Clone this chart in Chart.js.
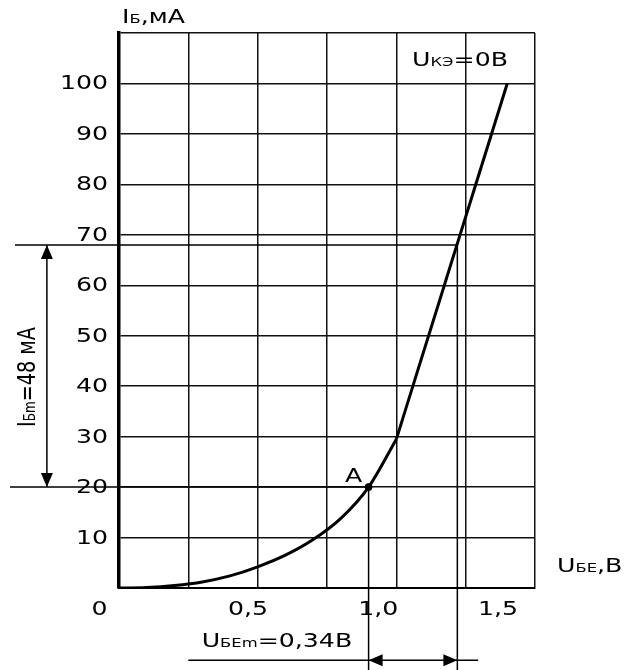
<!DOCTYPE html>
<html>
<head>
<meta charset="utf-8">
<script src="https://cdn.jsdelivr.net/npm/chart.js@4/dist/chart.umd.min.js"></script>
<style>
  html, body { margin: 0; padding: 0; background: #fff; }
  canvas { display: block; }
</style>
</head>
<body>
<canvas id="grafico" width="627" height="670"></canvas>
<script>
// входная характеристика I_Б(U_БЕ), U_КЭ = 0 В
const curveU = [0, 0.1, 0.2, 0.3, 0.4, 0.5, 0.6, 0.7, 0.8, 0.9, 1.0];
const curveI = [0, 0.1, 0.5, 1.2, 2.4, 4.2, 6.5, 9.6, 13.8, 20, 29.5];
const lineU = [1.0, 1.4];
const lineI = [29.5, 100];

// рабочие точки
const pointA = { x: 0.9, y: 20 };
const pointTop = { x: 1.22, y: 68 };

// подписи осей
const yTicks = [10, 20, 30, 40, 50, 60, 70, 80, 90, 100];
const xTickLabels = ['0', '0,5', '1,0', '1,5'];
const xTickAt = [-0.07, 0.465, 0.935, 1.367];

// выноски (в единицах осей)
const leftGuideX = [-0.375, -0.393];
const leftArrowX = -0.26;
const bottomArrowY = -14.3;
const bottomArrowX = [0.25, 1.295];
const bottomEndY = -17;

const FONT = 'DejaVu Sans';
const SX = 1.26;

function pts(xs, ys) {
  return xs.map((x, i) => ({ x: x, y: ys[i] }));
}

function guide(data) {
  return {
    data: data, showLine: true, borderColor: '#000', borderWidth: 1.5,
    pointRadius: 0, clip: false, tension: 0
  };
}

// текст с нижними индексами, растянутый по горизонтали
function richText(ctx, parts, x, y, align, sx) {
  ctx.save();
  let w = 0;
  parts.forEach(p => {
    ctx.font = p[1] + 'px "' + FONT + '"';
    w += ctx.measureText(p[0]).width;
  });
  w *= sx;
  let start = x;
  if (align === 'center') start = x - w / 2;
  if (align === 'right') start = x - w;
  ctx.translate(start, y);
  ctx.scale(sx, 1);
  ctx.fillStyle = '#000';
  ctx.textBaseline = 'alphabetic';
  ctx.textAlign = 'left';
  let cx = 0;
  parts.forEach(p => {
    ctx.font = p[1] + 'px "' + FONT + '"';
    ctx.fillText(p[0], cx, 0);
    cx += ctx.measureText(p[0]).width;
  });
  ctx.restore();
}

function arrowHead(ctx, x, y, dir) {
  const L = 14, W = 6;
  ctx.beginPath();
  if (dir === 'up') { ctx.moveTo(x, y); ctx.lineTo(x - W, y + L); ctx.lineTo(x + W, y + L); }
  if (dir === 'down') { ctx.moveTo(x, y); ctx.lineTo(x - W, y - L); ctx.lineTo(x + W, y - L); }
  if (dir === 'left') { ctx.moveTo(x, y); ctx.lineTo(x + L, y - W); ctx.lineTo(x + L, y + W); }
  if (dir === 'right') { ctx.moveTo(x, y); ctx.lineTo(x - L, y - W); ctx.lineTo(x - L, y + W); }
  ctx.closePath();
  ctx.fillStyle = '#000';
  ctx.fill();
}

const podpisi = {
  id: 'podpisi',
  afterDraw(chart) {
    const ctx = chart.ctx;
    const xs = chart.scales.x, ys = chart.scales.y;
    const X = v => xs.getPixelForValue(v);
    const Y = v => ys.getPixelForValue(v);

    // деления оси Y
    yTicks.forEach(t => {
      richText(ctx, [[String(t), 20]], X(0) - 11, Y(t) + 6, 'right', SX);
    });
    // деления оси X
    xTickLabels.forEach((t, i) => {
      richText(ctx, [[t, 20]], X(xTickAt[i]), Y(0) + 27, 'center', SX);
    });

    // названия осей
    richText(ctx, [['I', 20], ['Б', 13], [',мА', 20]], X(0) + 3, 23, 'left', SX);
    richText(ctx, [['U', 20], ['БЕ', 13], [',В', 20]], 557, Y(0) - 16, 'left', SX);
    richText(ctx, [['U', 20], ['КЭ', 13], ['=0В', 20]], 412, Y(103.5), 'left', SX);
    richText(ctx, [['A', 20]], X(pointA.x) - 15, Y(pointA.y) - 5, 'center', SX);
    richText(ctx, [['U', 20], ['БЕm', 13], ['=0,34В', 20]], X(0.5) - 56, Y(bottomArrowY) - 13, 'left', SX);

    // вертикальная подпись слева
    ctx.save();
    ctx.translate(35, Y((pointA.y + pointTop.y) / 2) + 11);
    ctx.rotate(-Math.PI / 2);
    richText(ctx, [['I', 24], ['Бm', 15], ['=48 мА', 24]], 0, 0, 'center', 0.8);
    ctx.restore();

    // стрелки
    arrowHead(ctx, X(leftArrowX), Y(pointTop.y), 'up');
    arrowHead(ctx, X(leftArrowX), Y(pointA.y), 'down');
    arrowHead(ctx, X(pointA.x), Y(bottomArrowY), 'left');
    arrowHead(ctx, X(pointTop.x), Y(bottomArrowY), 'right');
  }
};

new Chart(document.getElementById('grafico').getContext('2d'), {
  type: 'scatter',
  data: {
    datasets: [
      {
        data: pts(curveU, curveI), showLine: true, borderColor: '#000', borderWidth: 3,
        pointRadius: 0, cubicInterpolationMode: 'monotone', tension: 0.4
      },
      {
        data: pts(lineU, lineI), showLine: true, borderColor: '#000', borderWidth: 3,
        pointRadius: 0, tension: 0
      },
      guide([{ x: leftGuideX[0], y: pointTop.y }, pointTop, { x: pointTop.x, y: bottomEndY }]),
      guide([{ x: leftGuideX[1], y: pointA.y }, pointA, { x: pointA.x, y: bottomEndY }]),
      guide([{ x: leftArrowX, y: pointA.y }, { x: leftArrowX, y: pointTop.y }]),
      guide([{ x: bottomArrowX[0], y: bottomArrowY }, { x: bottomArrowX[1], y: bottomArrowY }]),
      {
        data: [pointA], pointRadius: 3.5, pointBackgroundColor: '#000',
        pointBorderColor: '#000', showLine: false
      }
    ]
  },
  options: {
    responsive: false,
    animation: false,
    layout: { padding: { left: 119, right: 92, top: 33, bottom: 82 } },
    plugins: { legend: { display: false }, tooltip: { enabled: false } },
    scales: {
      x: {
        type: 'linear', min: 0, max: 1.5,
        ticks: { display: false, stepSize: 0.25 },
        grid: { color: '#111', lineWidth: 1.5, drawTicks: false },
        border: { color: '#000', width: 2 }
      },
      y: {
        type: 'linear', min: 0, max: 110,
        ticks: { display: false, stepSize: 10 },
        grid: { color: '#111', lineWidth: 1.5, drawTicks: false },
        border: { color: '#000', width: 3.5 }
      }
    }
  },
  plugins: [podpisi]
});
</script>
</body>
</html>
